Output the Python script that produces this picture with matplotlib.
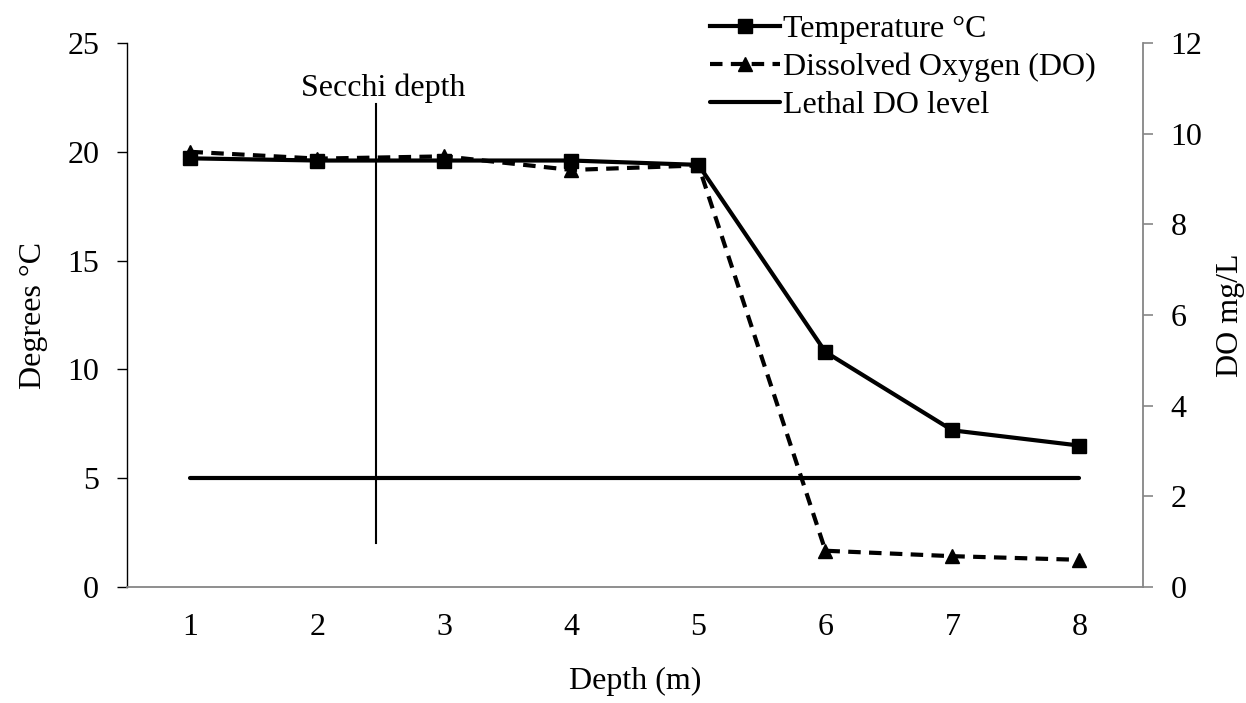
import matplotlib.pyplot as plt
import numpy as np

plt.rcParams.update({
    'font.family': ['Liberation Serif', 'DejaVu Serif'],
    'font.size': 23,
})

depth = [1, 2, 3, 4, 5, 6, 7, 8]
temperature = [19.7, 19.6, 19.6, 19.6, 19.4, 10.8, 7.2, 6.5]
dissolved_oxygen = [9.6, 9.45, 9.5, 9.2, 9.3, 0.8, 0.68, 0.6]
lethal_do = [5, 5, 5, 5, 5, 5, 5, 5]   # drawn on the left axis
secchi_depth = 2.46
secchi_range = (2.0, 22.2)

grey = '#868686'

fig = plt.figure(figsize=(12.46, 7.03), dpi=100)
ax = fig.add_axes([0.1019, 0.165, 0.8154, 0.7738])
ax2 = ax.twinx()

x = np.array(depth)

l1, = ax.plot(x, temperature, color='black', lw=3, marker='s', ms=10,
              label='Temperature °C')
l2, = ax2.plot(x, dissolved_oxygen, color='black', lw=3, ls='--', dashes=(3, 2),
               marker='^', ms=10, label='Dissolved Oxygen (DO)')
l3, = ax.plot(x, lethal_do, color='black', lw=3, solid_capstyle='round',
              label='Lethal DO level')

# Secchi depth marker
ax.plot([secchi_depth, secchi_depth], secchi_range, color='black', lw=1.5)
ax.text(secchi_depth + 0.06, 22.25, 'Secchi depth', ha='center', va='bottom')

ax.set_xlim(0.5, 8.5)
ax.set_ylim(0, 25)
ax2.set_ylim(0, 12)
ax.set_xticks(x)
ax.set_yticks(np.arange(0, 26, 5))
ax2.set_yticks(np.arange(0, 13, 2))

ax.tick_params(axis='x', length=0, pad=19)
ax.tick_params(axis='y', direction='out', length=7, width=1, pad=13)
ax2.tick_params(axis='y', direction='out', length=7, width=1.2, color=grey, pad=13)

for a in (ax, ax2):
    a.spines['top'].set_visible(False)
ax.spines['right'].set_visible(False)
ax.spines['bottom'].set_color(grey)
ax.spines['bottom'].set_linewidth(1.3)
ax.spines['left'].set_linewidth(1.0)
ax2.spines['left'].set_visible(False)
ax2.spines['bottom'].set_visible(False)
ax2.spines['right'].set_color(grey)
ax2.spines['right'].set_linewidth(1.3)

ax.set_xlabel('Depth (m)', labelpad=18)
ax.set_ylabel('Degrees °C', labelpad=14)
ax2.set_ylabel('DO mg/L', labelpad=10)

fig.legend(handles=[l1, l2, l3], loc='upper left', bbox_to_anchor=(0.558, 1.0),
           frameon=False, handlelength=2.2, handletextpad=0.1, labelspacing=0.28,
           borderaxespad=0.05)

fig.savefig('out.png', dpi=100)
